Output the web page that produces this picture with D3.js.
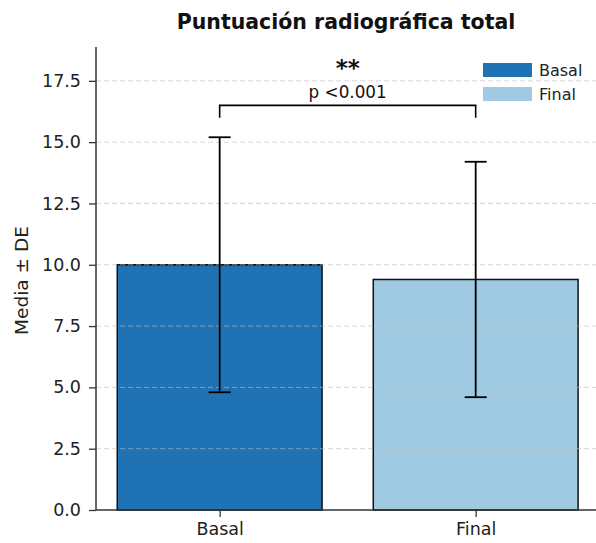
<!DOCTYPE html>
<html><head><meta charset="utf-8">
<script src="https://cdn.jsdelivr.net/npm/d3@7"></script>
<style>body{margin:0;background:#fff;} svg{display:block;font-family:"DejaVu Sans",sans-serif;} svg text{font-family:"DejaVu Sans",sans-serif;}</style>
</head><body>
<svg id="c" width="596" height="543"></svg>
<script>
const categories = ["Basal", "Final"];
const means = [10.0, 9.4];
const sds = [5.2, 4.8];
const colors = ["#1f72b3", "#9fcae1"];
const yTicks = [0, 2.5, 5, 7.5, 10, 12.5, 15, 17.5];
const title = "Puntuación radiográfica total";
const yLabel = "Media ± DE";
const sigStars = "**";
const pText = "p <0.001";
const bracketY = 16.5, bracketDrop = 0.5;

(function(){
const svg = d3.select("#c");
const pL = 96, pR = 596, pT = 47, pB = 510;
const y = d3.scaleLinear().domain([0, 18.88]).range([pB, pT]);
const x = d3.scaleLinear().domain([-0.483, 1.47]).range([pL, pR]);
const barW = (x(1) - x(0)) * 0.8;

// bars
svg.selectAll("rect.bar").data(categories).enter().append("rect")
  .attr("x", (d,i)=>x(i)-barW/2).attr("y", (d,i)=>y(means[i]))
  .attr("width", barW).attr("height", (d,i)=>y(0)-y(means[i]))
  .attr("fill", (d,i)=>colors[i]).attr("stroke", "#111").attr("stroke-width", 1.5);

// grid (on top)
svg.selectAll("line.grid").data(yTicks.slice(1)).enter().append("line")
  .attr("x1", pL).attr("x2", pR).attr("y1", d=>y(d)).attr("y2", d=>y(d))
  .attr("stroke", "#bbb").attr("stroke-opacity", 0.6).attr("stroke-width", 1)
  .attr("stroke-dasharray", "5,3");

// error bars
const capW = 11;
categories.forEach((c,i)=>{
  const g = svg.append("g").attr("stroke", "#000").attr("stroke-width", 1.8);
  g.append("line").attr("x1", x(i)).attr("x2", x(i)).attr("y1", y(means[i]-sds[i])).attr("y2", y(means[i]+sds[i]));
  [means[i]-sds[i], means[i]+sds[i]].forEach(v=>{
    g.append("line").attr("x1", x(i)-capW).attr("x2", x(i)+capW).attr("y1", y(v)).attr("y2", y(v));
  });
});

// axes
const yAxis = d3.axisLeft(y).tickValues(yTicks).tickFormat(d3.format(".1f")).tickSize(7).tickPadding(8);
const ga = svg.append("g").attr("transform", `translate(${pL},0)`).call(yAxis).attr("font-family", null);
ga.select(".domain").attr("d", `M0,${pT}V${pB}`).attr("stroke", "#333").attr("stroke-width", 1.5);
ga.selectAll(".tick line").attr("stroke", "#333").attr("stroke-width", 1.3);
ga.selectAll("text").attr("font-size", 17.5).attr("fill", "#222");

const xAxis = d3.axisBottom(x).tickValues([0,1]).tickFormat(i=>categories[i]).tickSize(7).tickPadding(6);
const gx = svg.append("g").attr("transform", `translate(0,${pB})`).call(xAxis).attr("font-family", null);
gx.select(".domain").attr("d", `M${pL},0H${pR}`).attr("stroke", "#333").attr("stroke-width", 1.5);
gx.selectAll(".tick line").attr("stroke", "#333").attr("stroke-width", 1.3);
gx.selectAll("text").attr("font-size", 17.5).attr("fill", "#222");

// title and label
svg.append("text").attr("x", 346).attr("y", 29).attr("text-anchor", "middle")
  .attr("font-size", 20.5).attr("font-weight", "bold").attr("fill", "#111").text(title);
svg.append("text").attr("transform", `translate(28,${(pT+pB)/2+2}) rotate(-90)`)
  .attr("text-anchor", "middle").attr("font-size", 18.5).attr("fill", "#222").text(yLabel);

// significance bracket
const b = svg.append("g").attr("stroke", "#000").attr("stroke-width", 1.6).attr("fill", "none");
b.append("path").attr("d", `M${x(0)},${y(bracketY-bracketDrop)}V${y(bracketY)}H${x(1)}V${y(bracketY-bracketDrop)}`);
const mid = (x(0)+x(1))/2;
svg.append("text").attr("x", mid).attr("y", 98).attr("text-anchor", "middle")
  .attr("font-size", 16.8).attr("fill", "#111").text(pText);
svg.append("text").attr("x", mid).attr("y", 76).attr("text-anchor", "middle")
  .attr("font-size", 23).attr("font-weight", "bold").attr("fill", "#111").text(sigStars);

// legend
const lg = svg.append("g").attr("transform", "translate(483,63)");
categories.forEach((c,i)=>{
  lg.append("rect").attr("x", 0).attr("y", i*24).attr("width", 49).attr("height", 14).attr("fill", colors[i]);
  lg.append("text").attr("x", 56).attr("y", i*24+13).attr("font-size", 16).attr("fill", "#222").text(c);
});
})();
</script>
</body></html>
